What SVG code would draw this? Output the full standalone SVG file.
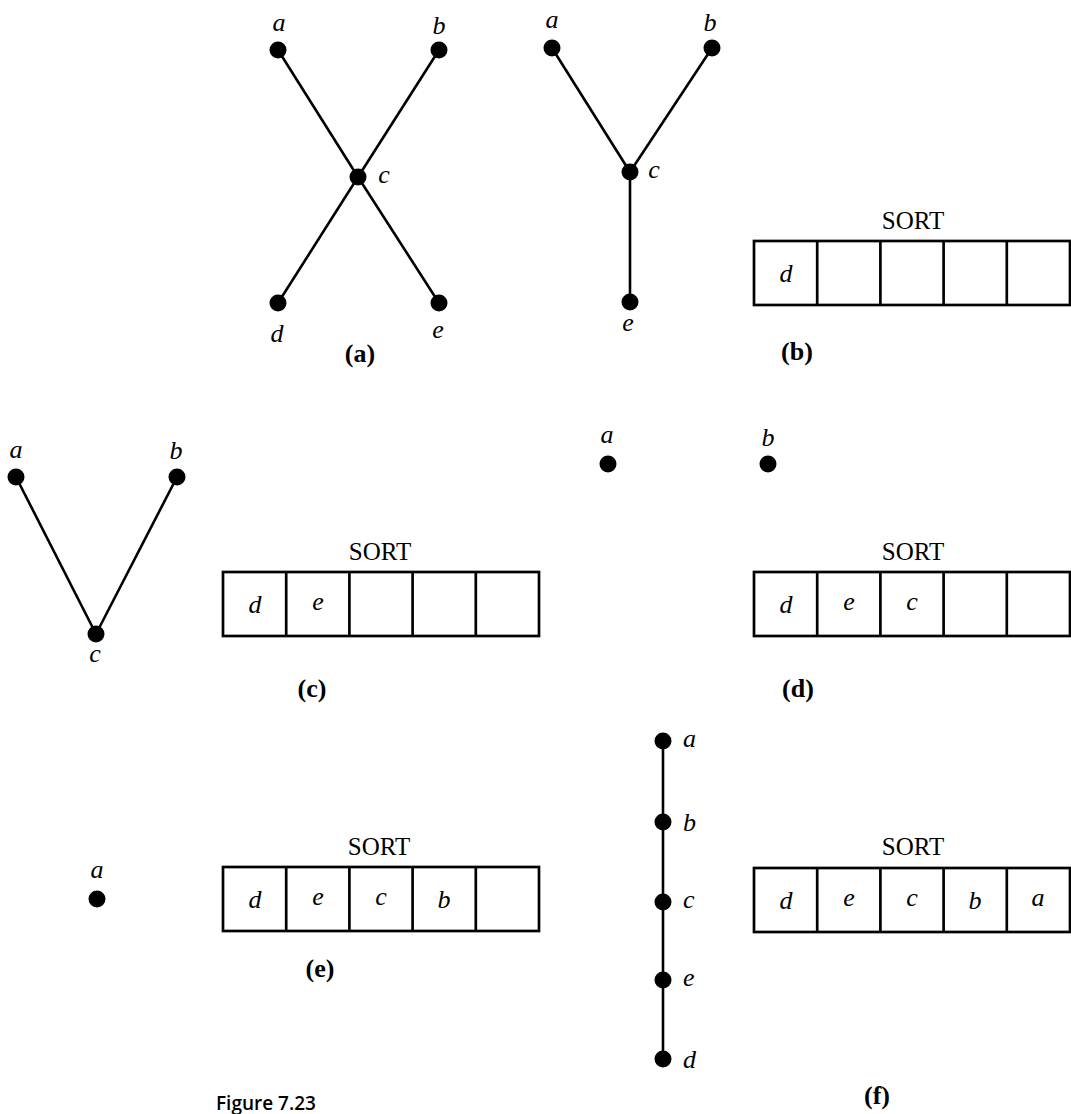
<svg xmlns="http://www.w3.org/2000/svg" width="1071" height="1114" viewBox="0 0 1071 1114">
<style>
.bg{fill:#fff}
.edge{stroke:#000;stroke-width:2.6;fill:none}
.dot{fill:#000}
.cell{fill:none;stroke:#000;stroke-width:2.7}
.lbl{font-family:"Liberation Serif",serif;font-style:italic;font-size:26px;fill:#000;text-anchor:middle}
.lbls{font-family:"Liberation Serif",serif;font-style:italic;font-size:26px;fill:#000;text-anchor:start}
.sort{font-family:"Liberation Serif",serif;font-size:25px;fill:#000;text-anchor:middle}
.sub{font-family:"Liberation Serif",serif;font-weight:bold;font-size:26px;fill:#000;text-anchor:middle}
.cap{font-family:"Open Sans","Liberation Sans",sans-serif;font-weight:600;font-size:19px;fill:#000}
</style>
<defs>
<g id="table5">
<rect class="cell" x="0" y="0" width="316" height="64"/>
<line class="cell" x1="63.2" y1="0" x2="63.2" y2="64"/>
<line class="cell" x1="126.4" y1="0" x2="126.4" y2="64"/>
<line class="cell" x1="189.6" y1="0" x2="189.6" y2="64"/>
<line class="cell" x1="252.8" y1="0" x2="252.8" y2="64"/>
</g>
</defs>
<rect class="bg" x="0" y="0" width="1071" height="1114"/>

<g id="connectors">
<line class="edge" x1="278" y1="50" x2="358" y2="177"/>
<line class="edge" x1="439" y1="50" x2="358" y2="177"/>
<line class="edge" x1="358" y1="177" x2="278" y2="303"/>
<line class="edge" x1="358" y1="177" x2="439" y2="303"/>
<line class="edge" x1="552" y1="48" x2="630" y2="172"/>
<line class="edge" x1="712" y1="48" x2="630" y2="172"/>
<line class="edge" x1="630" y1="172" x2="630" y2="302"/>
<line class="edge" x1="16" y1="477" x2="96" y2="634"/>
<line class="edge" x1="177" y1="477" x2="96" y2="634"/>
<line class="edge" x1="663" y1="741" x2="663" y2="822"/>
<line class="edge" x1="663" y1="822" x2="663" y2="902"/>
<line class="edge" x1="663" y1="902" x2="663" y2="980"/>
<line class="edge" x1="663" y1="980" x2="663" y2="1059"/>
</g>

<g id="a-node-a"><circle class="dot" cx="278" cy="50" r="8.5"/><text class="lbl" x="279" y="31">a</text></g>
<g id="a-node-b"><circle class="dot" cx="439" cy="50" r="8.5"/><text class="lbl" x="439" y="34">b</text></g>
<g id="a-node-c"><circle class="dot" cx="358" cy="177" r="8.5"/><text class="lbl" x="384" y="183">c</text></g>
<g id="a-node-d"><circle class="dot" cx="278" cy="303" r="8.5"/><text class="lbl" x="277" y="342">d</text></g>
<g id="a-node-e"><circle class="dot" cx="439" cy="303" r="8.5"/><text class="lbl" x="438" y="338">e</text></g>
<text class="sub" x="360" y="362">(a)</text>

<g id="b-node-a"><circle class="dot" cx="552" cy="48" r="8.5"/><text class="lbl" x="552" y="28">a</text></g>
<g id="b-node-b"><circle class="dot" cx="712" cy="48" r="8.5"/><text class="lbl" x="710" y="31">b</text></g>
<g id="b-node-c"><circle class="dot" cx="630" cy="172" r="8.5"/><text class="lbl" x="654" y="178">c</text></g>
<g id="b-node-e"><circle class="dot" cx="630" cy="302" r="8.5"/><text class="lbl" x="628" y="331">e</text></g>
<g id="b-sort">
<text class="sort" x="913" y="229">SORT</text>
<use href="#table5" x="754" y="241"/>
<text class="lbl" x="786" y="282">d</text>
</g>
<text class="sub" x="797" y="360">(b)</text>

<g id="c-node-a"><circle class="dot" cx="16" cy="477" r="8.5"/><text class="lbl" x="16" y="458">a</text></g>
<g id="c-node-b"><circle class="dot" cx="177" cy="477" r="8.5"/><text class="lbl" x="176" y="459">b</text></g>
<g id="c-node-c"><circle class="dot" cx="96" cy="634" r="8.5"/><text class="lbl" x="95" y="662">c</text></g>
<g id="c-sort">
<text class="sort" x="380" y="560">SORT</text>
<use href="#table5" x="223" y="572"/>
<text class="lbl" x="255" y="613">d</text>
<text class="lbl" x="318" y="610">e</text>
</g>
<text class="sub" x="312" y="697">(c)</text>

<g id="d-node-a"><circle class="dot" cx="608" cy="464" r="8.5"/><text class="lbl" x="607" y="443">a</text></g>
<g id="d-node-b"><circle class="dot" cx="768" cy="464" r="8.5"/><text class="lbl" x="768" y="446">b</text></g>
<g id="d-sort">
<text class="sort" x="913" y="560">SORT</text>
<use href="#table5" x="754" y="572"/>
<text class="lbl" x="786" y="613">d</text>
<text class="lbl" x="849" y="610">e</text>
<text class="lbl" x="912" y="610">c</text>
</g>
<text class="sub" x="798" y="697">(d)</text>

<g id="e-node-a"><circle class="dot" cx="97" cy="899" r="8.5"/><text class="lbl" x="97" y="878">a</text></g>
<g id="e-sort">
<text class="sort" x="379" y="855">SORT</text>
<use href="#table5" x="223" y="867"/>
<text class="lbl" x="255" y="908">d</text>
<text class="lbl" x="318" y="905">e</text>
<text class="lbl" x="381" y="905">c</text>
<text class="lbl" x="444" y="908">b</text>
</g>
<text class="sub" x="320" y="977">(e)</text>

<g id="f-node-a"><circle class="dot" cx="663" cy="741" r="8.5"/><text class="lbls" x="683" y="747">a</text></g>
<g id="f-node-b"><circle class="dot" cx="663" cy="822" r="8.5"/><text class="lbls" x="683" y="831">b</text></g>
<g id="f-node-c"><circle class="dot" cx="663" cy="902" r="8.5"/><text class="lbls" x="683" y="908">c</text></g>
<g id="f-node-e"><circle class="dot" cx="663" cy="980" r="8.5"/><text class="lbls" x="683" y="986">e</text></g>
<g id="f-node-d"><circle class="dot" cx="663" cy="1059" r="8.5"/><text class="lbls" x="683" y="1068">d</text></g>
<g id="f-sort">
<text class="sort" x="913" y="855">SORT</text>
<use href="#table5" x="754" y="868"/>
<text class="lbl" x="786" y="909">d</text>
<text class="lbl" x="849" y="906">e</text>
<text class="lbl" x="912" y="906">c</text>
<text class="lbl" x="975" y="909">b</text>
<text class="lbl" x="1038" y="906">a</text>
</g>
<text class="sub" x="877" y="1104">(f)</text>

<text class="cap" x="216" y="1110">Figure 7.23</text>
</svg>
